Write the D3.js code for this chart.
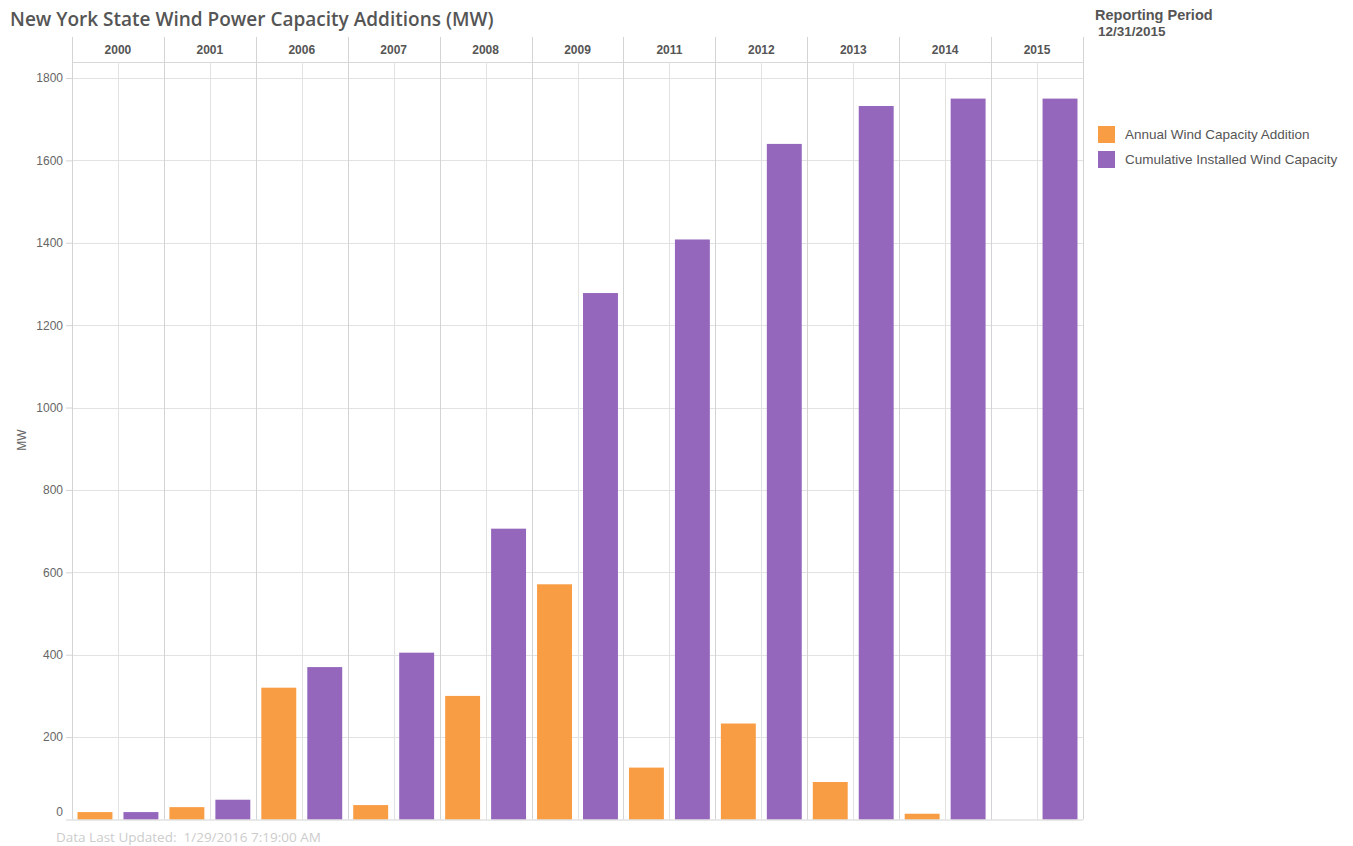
<!DOCTYPE html>
<html>
<head>
<meta charset="utf-8">
<script src="https://cdn.jsdelivr.net/npm/d3@7"></script>
<style>
  body { margin: 0; background: #fff; }
  text { font-family: Arial, "Liberation Sans", sans-serif; }
</style>
</head>
<body>
<div id="chart"></div>
<script>
// data
var years = ["2000", "2001", "2006", "2007", "2008", "2009", "2011", "2012", "2013", "2014", "2015"];
var annual = [18, 30, 320, 35, 300, 571, 126, 233, 91, 14, 0];
var cumulative = [18, 48, 370, 405, 706, 1278, 1408, 1640, 1732, 1750, 1750];
var seriesNames = ["Annual Wind Capacity Addition", "Cumulative Installed Wind Capacity"];
var seriesColors = ["#f99d45", "#9467bd"];
var yTicks = [0, 200, 400, 600, 800, 1000, 1200, 1400, 1600, 1800];

var W = 1353, H = 846;
var left = 72, right = 1083, headTop = 37, headBottom = 62, bottom = 819.5;

var svg = d3.select("#chart").append("svg")
	.attr("width", W)
	.attr("height", H);

// title
svg.append("text")
	.attr("x", 10)
	.attr("y", 26)
	.attr("fill", "#555")
	.style("font-family", "'Open Sans', sans-serif")
	.style("font-size", "19px")
	.style("font-weight", 600)
	.text("New York State Wind Power Capacity Additions (MW)");

var x = d3.scaleBand().domain(years).range([left, right]);
var xs = d3.scaleBand().domain([0, 1]).range([0, x.bandwidth()]).paddingInner(0.24).paddingOuter(0.12);
var y = d3.scaleLinear().domain([0, 1800]).range([bottom, 78]);

// horizontal grid
svg.append("g").selectAll("line")
	.data(yTicks.slice(1))
	.enter().append("line")
	.attr("x1", left).attr("x2", right)
	.attr("y1", function(d) { return Math.round(y(d)) + 0.5; })
	.attr("y2", function(d) { return Math.round(y(d)) + 0.5; })
	.attr("stroke", "#e2e2e2");

// header line
svg.append("line")
	.attr("x1", left).attr("x2", right)
	.attr("y1", headBottom + 0.5).attr("y2", headBottom + 0.5)
	.attr("stroke", "#d8d8d8");

// panel borders
svg.append("g").selectAll("line")
	.data(years)
	.enter().append("line")
	.attr("x1", function(d) { return Math.round(x(d)) + 0.5; })
	.attr("x2", function(d) { return Math.round(x(d)) + 0.5; })
	.attr("y1", headTop).attr("y2", bottom)
	.attr("stroke", "#d4d4d4");
svg.append("line")
	.attr("x1", right + 0.5).attr("x2", right + 0.5)
	.attr("y1", headTop).attr("y2", bottom)
	.attr("stroke", "#d4d4d4");

// center gridline in each panel
svg.append("g").selectAll("line")
	.data(years)
	.enter().append("line")
	.attr("x1", function(d) { return Math.round(x(d) + x.bandwidth() / 2) + 0.5; })
	.attr("x2", function(d) { return Math.round(x(d) + x.bandwidth() / 2) + 0.5; })
	.attr("y1", headBottom).attr("y2", bottom)
	.attr("stroke", "#e2e2e2");

// year labels
svg.append("g").selectAll("text")
	.data(years)
	.enter().append("text")
	.attr("x", function(d) { return x(d) + x.bandwidth() / 2; })
	.attr("y", 54)
	.attr("text-anchor", "middle")
	.attr("fill", "#555")
	.style("font-size", "12px")
	.style("font-weight", "bold")
	.text(function(d) { return d; });

// bars
var groups = svg.append("g").selectAll("g")
	.data(years)
	.enter().append("g")
	.attr("transform", function(d) { return "translate(" + x(d) + ",0)"; });

groups.selectAll("rect")
	.data(function(d, i) { return [annual[i], cumulative[i]]; })
	.enter().append("rect")
	.attr("x", function(d, j) { return xs(j); })
	.attr("width", xs.bandwidth())
	.attr("y", function(d) { return y(d); })
	.attr("height", function(d) { return bottom - y(d); })
	.attr("fill", function(d, j) { return seriesColors[j]; });

// baseline
svg.append("line")
	.attr("x1", left).attr("x2", right)
	.attr("y1", bottom + 0.5).attr("y2", bottom + 0.5)
	.attr("stroke", "#d4d4d4");

// y axis
var yAxis = svg.append("g")
	.attr("transform", "translate(" + left + ",0)")
	.call(d3.axisLeft(y).tickValues(yTicks).tickFormat(d3.format("d")).tickSize(6).tickPadding(3));
yAxis.select(".domain").remove();
yAxis.selectAll(".tick line").attr("stroke", "#d4d4d4");
yAxis.selectAll(".tick text")
	.attr("fill", "#666")
	.style("font-size", "12px")
	.style("font-family", "Arial, 'Liberation Sans', sans-serif")
	.attr("dy", function(d) { return d === 0 ? "-0.35em" : "0.32em"; });

svg.append("text")
	.attr("transform", "translate(26,440) rotate(-90)")
	.attr("text-anchor", "middle")
	.attr("fill", "#666")
	.style("font-size", "12px")
	.text("MW");

// reporting period
svg.append("text")
	.attr("x", 1095).attr("y", 20)
	.attr("fill", "#555")
	.style("font-size", "14.5px")
	.style("font-weight", "bold")
	.text("Reporting Period");
svg.append("text")
	.attr("x", 1098).attr("y", 36)
	.attr("fill", "#555")
	.style("font-size", "13.5px")
	.style("font-weight", "bold")
	.text("12/31/2015");

// legend
var legend = svg.append("g").selectAll("g")
	.data(seriesNames)
	.enter().append("g")
	.attr("transform", function(d, i) { return "translate(1098," + (126 + i * 25) + ")"; });
legend.append("rect")
	.attr("width", 17).attr("height", 17)
	.attr("fill", function(d, i) { return seriesColors[i]; });
legend.append("text")
	.attr("x", 27).attr("y", 13)
	.attr("fill", "#555")
	.style("font-size", "13.5px")
	.text(function(d) { return d; });

// footer
svg.append("text")
	.attr("x", 56).attr("y", 842)
	.attr("fill", "#cccccc")
	.style("font-family", "'Open Sans', sans-serif")
	.style("font-size", "13.5px")
	.style("white-space", "pre")
	.text("Data Last Updated:  1/29/2016 7:19:00 AM");
</script>
</body>
</html>
